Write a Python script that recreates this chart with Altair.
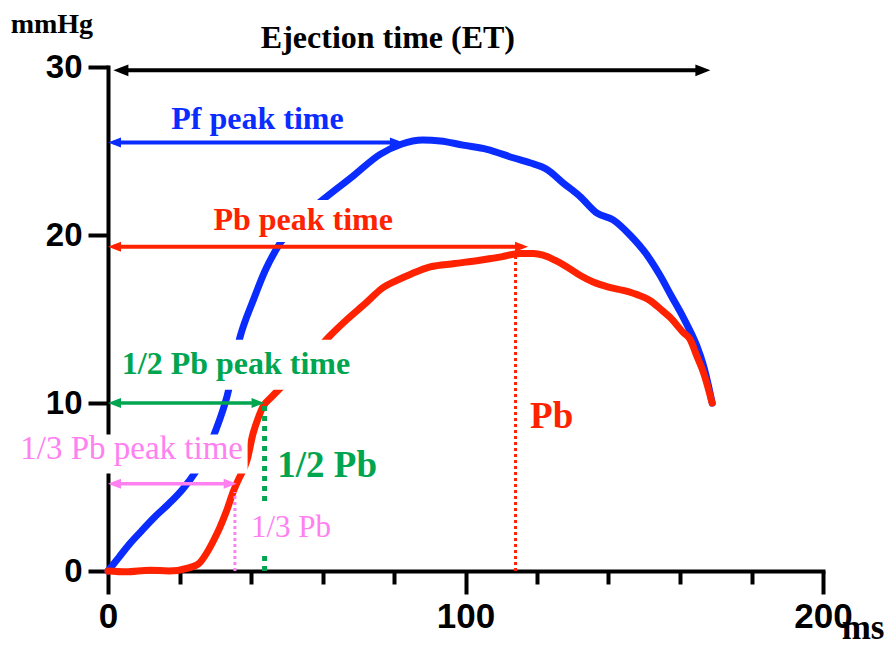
import altair as alt
import pandas as pd

# ---------------- data ----------------
# Pf (blue) pressure curve, ms / mmHg
pf_t = [0, 3, 6, 9, 13, 17, 21, 24.5, 27.5, 30, 33.3, 36.9, 40.6, 44, 48.1, 54, 60.1, 68.5, 76.1,
        82, 88, 93, 99.3, 106, 113.3, 118, 122.8, 127.3, 132, 136.8, 141.3, 146, 150.8, 154.4,
        157.5, 160.9, 162.8, 164.7, 166.6, 168, 169]
pf_p = [0, 0.8, 1.6, 2.3, 3.2, 4.0, 4.9, 5.9, 7.0, 8.3, 10.4, 13.9, 16.1, 17.9, 19.5, 21.0, 22.1,
        23.5, 24.8, 25.4, 25.65, 25.6, 25.35, 25.1, 24.6, 24.3, 23.9, 23.1, 22.3, 21.3, 20.9, 20.0,
        18.8, 17.6, 16.4, 15.1, 14.3, 13.4, 12.2, 11.0, 10.0]

# Pb (red) pressure curve
pb_t = [0, 5, 11.7, 17, 22.9, 25.7, 27.7, 29.5, 31.3, 33.2, 35, 36.4, 38.9, 40.6, 42, 43.4, 45.5,
        47.3, 52, 57, 62.1, 67, 72.4, 76.5, 80.8, 85, 90.1, 97, 104, 110, 115.2, 119, 121.7, 125,
        128.4, 132, 135.7, 140, 144.1, 148, 151.6, 154.5, 157.2, 160.9, 162.8, 164.7, 166.6, 169]
pb_p = [0, -0.05, 0.05, 0.0, 0.2, 0.5, 1.1, 1.8, 2.6, 3.6, 4.7, 5.4, 6.6, 8.2, 9.1, 9.8, 10.3,
        10.7, 11.7, 12.8, 14.0, 15.0, 16.0, 16.8, 17.3, 17.7, 18.1, 18.3, 18.5, 18.7, 18.9, 18.9,
        18.8, 18.5, 18.1, 17.6, 17.2, 16.9, 16.7, 16.45, 16.1, 15.6, 15.1, 14.2, 13.8, 12.8, 11.8,
        10.0]

# horizontal time arrows
arrow_names = ["ET", "Pf", "Pb", "half", "third"]
arrow_start = [1.5, 0, 0, 0, 0]
arrow_end = [168.5, 82.5, 117.5, 43.8, 36.0]
arrow_level = [29.8, 25.5, 19.3, 10.0, 5.2]

# vertical dotted markers
marker_names = ["Pb", "half", "third"]
marker_t = [114, 43.8, 35.5]
marker_p = [18.9, 10.0, 4.7]

# annotation texts (anchor = centre of the text baseline, in ms / mmHg)
label_text = ["Ejection time (ET)", "Pf peak time", "Pb peak time", "1/2 Pb peak time",
              "1/3 Pb peak time", "1/2 Pb", "1/3 Pb", "Pb", "mmHg", "ms"]
label_x = [78.3, 41.8, 54.6, 35.8, 6.6, 61.3, 51.2, 124.1, -15.7, 211.2]
label_y = [31.12, 26.3, 20.3, 11.74, 6.69, 5.62, 2.05, 8.53, 32.0, -4.07]

x_ticks = list(range(0, 201, 20))
y_ticks = [0, 10, 20, 30]

# ---------------- styles ----------------
BLUE = "#0a2cff"
RED = "#ff2200"
GREEN = "#00a550"
PINK = "#ff80f0"
SERIF = "Liberation Serif"
SANS = "Liberation Sans"

arrow_colors = {"ET": "black", "Pf": BLUE, "Pb": RED, "half": GREEN, "third": PINK}
arrow_widths = {"ET": 4, "Pf": 4, "Pb": 4, "half": 3.5, "third": 3.5}
marker_colors = {"Pb": RED, "half": GREEN, "third": PINK}
marker_style = {"Pb": (3, [3, 3]), "half": (5, [5, 5]), "third": (3, [3, 3])}
# colour, font size, weight
label_style = {
    "Ejection time (ET)": ("black", 32, "bold"),
    "Pf peak time": (BLUE, 32, "bold"),
    "Pb peak time": (RED, 32, "bold"),
    "1/2 Pb peak time": (GREEN, 32, "bold"),
    "1/3 Pb peak time": (PINK, 33, "normal"),
    "1/2 Pb": (GREEN, 37, "bold"),
    "1/3 Pb": (PINK, 31, "normal"),
    "Pb": (RED, 37, "bold"),
    "mmHg": ("black", 28, "bold"),
    "ms": ("black", 35, "bold"),
}
# white knock-out box behind a label: width, extent above baseline, extent below (px)
label_box = {
    "Ejection time (ET)": (260, 26, 8),
    "Pf peak time": (178, 26, 8),
    "Pb peak time": (186, 30, 12),
    "1/2 Pb peak time": (234, 34, 16),
    "1/3 Pb peak time": (232, 24, 15),
    "1/2 Pb": (106, 30, 6),
    "1/3 Pb": (88, 35, 18),
    "Pb": (48, 28, 6),
}


def box_path(w, a, d):
    s = w / 2.0
    return f"M-1,{-a / s:.4f}L1,{-a / s:.4f}L1,{d / s:.4f}L-1,{d / s:.4f}Z"


# ---------------- tables ----------------
curves = pd.concat([
    pd.DataFrame({"t": pf_t, "p": pf_p, "series": "Pf", "order": range(len(pf_t))}),
    pd.DataFrame({"t": pb_t, "p": pb_p, "series": "Pb", "order": range(len(pb_t))}),
])
arrows = pd.DataFrame({"name": arrow_names, "t0": arrow_start, "t1": arrow_end, "p": arrow_level})
markers = pd.DataFrame({"name": marker_names, "t": marker_t, "p": marker_p})
labels = pd.DataFrame({"text": label_text, "t": label_x, "p": label_y})
labels["color"] = labels["text"].map(lambda s: label_style[s][0])
labels["size"] = labels["text"].map(lambda s: label_style[s][1])
labels["weight"] = labels["text"].map(lambda s: label_style[s][2])
boxes = labels[labels["text"].isin(list(label_box))].copy()
boxes["shape"] = boxes["text"].map(lambda s: box_path(*label_box[s]))
boxes["area"] = boxes["text"].map(lambda s: label_box[s][0] ** 2)

xscale = alt.Scale(domain=[0, 200], nice=False, zero=False)
yscale = alt.Scale(domain=[0, 30], nice=False, zero=False)

x_axis = alt.Axis(
    values=x_ticks, labelExpr="datum.value % 100 === 0 ? datum.label : ''",
    tickSize={"condition": {"test": "datum.value % 100 === 0", "value": 23}, "value": 13},
    tickWidth=4, tickColor="black", domainWidth=4, domainColor="black", domainCap="square",
    labelFont=SANS, labelFontSize=35, labelFontWeight="bold", labelColor="black",
    labelPadding=5, labelFlush=False, labelOverlap=False, grid=False, title=None,
)
y_axis = alt.Axis(
    values=y_ticks, tickSize=20, tickWidth=4, tickColor="black", domainWidth=4,
    domainColor="black", domainCap="square", labelFont=SANS, labelFontSize=33,
    labelFontWeight="bold", labelColor="black", labelPadding=6, labelOverlap=False,
    grid=False, title=None,
)


def X(f="t"):
    return alt.X(f"{f}:Q", scale=xscale, axis=x_axis, title=None)


def Y(f="p"):
    return alt.Y(f"{f}:Q", scale=yscale, axis=y_axis, title=None)


layers = []

# curves
for name, col in [("Pf", BLUE), ("Pb", RED)]:
    layers.append(
        alt.Chart(curves[curves.series == name]).mark_line(
            color=col, strokeWidth=7, strokeCap="round", strokeJoin="round", interpolate="monotone"
        ).encode(x=X(), y=Y(), order="order:Q")
    )

# dotted vertical markers
for name in marker_names:
    w, dash = marker_style[name]
    d = markers[markers.name == name].assign(zero=0)
    layers.append(
        alt.Chart(d).mark_rule(color=marker_colors[name], strokeWidth=w, strokeDash=dash).encode(
            x=X(), y=Y("zero"), y2="p:Q"
        )
    )

# white knock-out boxes behind the labels (cut the lines and the axis, as in the figure)
layers.append(
    alt.Chart(boxes).mark_point(filled=True, opacity=1, color="white", strokeWidth=0).encode(
        x=X(), y=Y(),
        shape=alt.Shape("shape:N", scale=None, legend=None),
        size=alt.Size("area:Q", scale=None, legend=None),
    )
)

# arrow shafts and heads
RIGHT = "M1,0L-1,-0.77L-1,0.77Z"
LEFT = "M-1,0L1,-0.77L1,0.77Z"
for name in arrow_names:
    d = arrows[arrows.name == name]
    big = name == "ET"
    size = 225 if big else 169
    off = 7.5 if big else 6.5
    col = arrow_colors[name]
    layers.append(
        alt.Chart(d).mark_rule(color=col, strokeWidth=arrow_widths[name], xOffset=off - 1,
                               x2Offset=-(off - 1)).encode(x=X("t0"), x2="t1:Q", y=Y())
    )
    layers.append(
        alt.Chart(d).mark_point(shape=LEFT, size=size, filled=True, opacity=1, color=col,
                                strokeWidth=0, xOffset=off).encode(x=X("t0"), y=Y())
    )
    layers.append(
        alt.Chart(d).mark_point(shape=RIGHT, size=size, filled=True, opacity=1, color=col,
                                strokeWidth=0, xOffset=-off).encode(x=X("t1"), y=Y())
    )

# labels
for weight in ["bold", "normal"]:
    d = labels[labels.weight == weight]
    layers.append(
        alt.Chart(d).mark_text(font=SERIF, fontWeight=weight, align="center", baseline="alphabetic").encode(
            x=X(), y=Y(), text="text:N", size=alt.Size("size:Q", scale=None, legend=None),
            color=alt.Color("color:N", scale=None, legend=None),
        )
    )

chart = alt.layer(*layers).properties(
    width=715, height=504,
    padding={"left": 100, "top": 59, "right": 62, "bottom": 77},
    autosize=alt.AutoSizeParams(type="none"),
    background="white",
).configure_view(stroke=None)

chart.save("out.html", embed_options={"renderer": "svg", "actions": False})
